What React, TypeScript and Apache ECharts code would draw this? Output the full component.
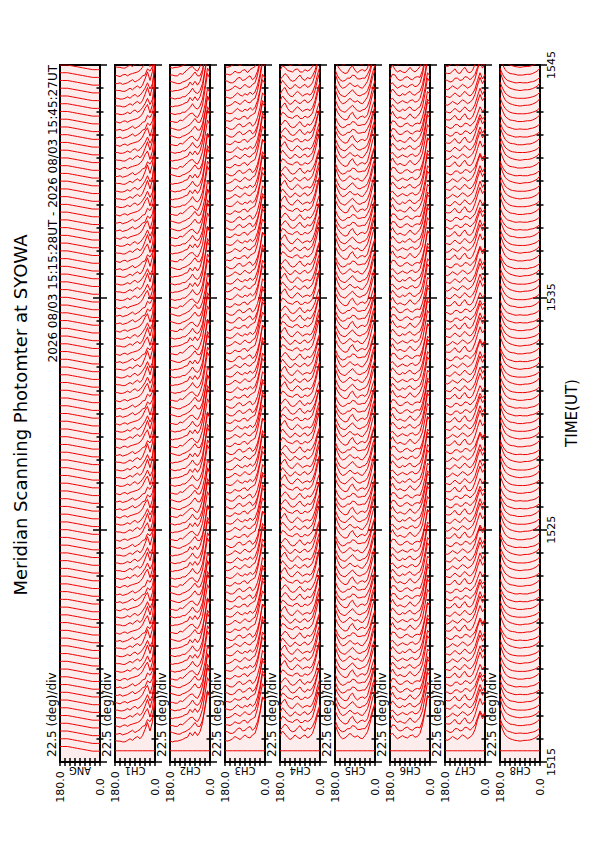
import React, { useEffect, useRef } from 'react';
import * as echarts from 'echarts';

// ---- labels ----
const TITLE = 'Meridian Scanning Photomter at SYOWA';
const SUBTITLE = '2026 08/03 15:15:28UT - 2026 08/03 15:45:27UT';
const SCALE_LABEL = '22.5 (deg)/div';
const TIME_TITLE = 'TIME(UT)';
const CHANNELS = ['ANG', 'CH1', 'CH2', 'CH3', 'CH4', 'CH5', 'CH6', 'CH7', 'CH8'];
const TIME_TICKS = ['1515', '1525', '1535', '1545'];

// ---- scan geometry ----
const ANGLES = [180, 168.75, 157.5, 146.25, 135, 123.75, 112.5, 101.25, 90, 78.75, 67.5, 56.25, 45, 33.75, 22.5, 11.25, 0];
const FIRST_SCAN_SEC = 28;
const SCAN_SEC = 20;
const N_SCANS = 89;
const VARIANT_ORDER = [0, 1, 2, 3, 1, 0, 3, 2, 2, 3, 0, 1];

// ---- trace profiles (offset in scan spacings, from 180 deg to 0 deg) ----
const ANG_PROFILES = [
  [0.6, 0.6, 0.6, 0.6, 0.54, 0.48, 0.42, 0.36, 0.3, 0.24, 0.18, 0.12, 0.06, 0, 0, 0, 0],
];
const CH1_PROFILES = [
  [0.3, 0.3, 0.2, 0.2, 0.3, 0.5, 0.3, 0.6, 0.8, 0.5, 0.7, 1.1, 1.6, 2.3, 1.5, 2.2, 5.0],
  [0.4, 0.3, 0.3, 0.2, 0.2, 0.4, 0.6, 0.4, 0.7, 0.9, 0.6, 1.0, 1.8, 2.7, 1.6, 2.8, 5.8],
  [0.2, 0.2, 0.3, 0.1, 0.2, 0.3, 0.5, 0.7, 0.4, 0.6, 0.8, 1.2, 1.3, 2.1, 1.8, 2.4, 4.4],
  [0.3, 0.2, 0.1, 0.3, 0.4, 0.2, 0.4, 0.5, 0.6, 0.7, 0.9, 1.3, 2.0, 2.5, 1.4, 2.5, 5.3],
];
const CH2_PROFILES = [
  [0.4, 0.3, 0.2, 0.3, 0.3, 0.5, 0.5, 0.8, 1.1, 1.6, 1.1, 0.9, 1.3, 2.2, 4.0, 6.2, 5.6],
  [0.3, 0.2, 0.3, 0.3, 0.4, 0.5, 0.7, 0.8, 1.4, 1.0, 1.5, 1.0, 1.5, 2.6, 4.8, 6.8, 6.1],
  [0.5, 0.4, 0.3, 0.2, 0.2, 0.4, 0.5, 0.7, 0.9, 1.3, 1.7, 1.2, 1.2, 2.0, 3.5, 5.6, 5.0],
  [0.3, 0.3, 0.2, 0.2, 0.5, 0.4, 0.7, 1.0, 1.3, 1.4, 1.0, 0.8, 1.4, 2.4, 4.4, 6.5, 5.8],
];
const CH3_PROFILES = [
  [0.5, 0.4, 0.3, 0.4, 0.7, 1.0, 0.7, 0.6, 0.9, 0.7, 1.1, 0.8, 1.1, 2.0, 3.4, 5.4, 4.9],
  [0.4, 0.3, 0.4, 0.6, 0.9, 0.7, 0.5, 0.8, 1.1, 0.8, 0.7, 1.1, 1.3, 2.3, 3.9, 6.0, 5.5],
  [0.6, 0.5, 0.3, 0.3, 0.5, 0.9, 1.0, 0.6, 0.7, 1.0, 1.2, 0.7, 1.0, 1.8, 3.1, 5.0, 4.6],
  [0.4, 0.4, 0.3, 0.5, 0.8, 0.6, 0.6, 0.9, 1.0, 0.6, 1.0, 1.2, 1.4, 2.5, 4.1, 5.7, 5.2],
];
const CH4_PROFILES = [
  [0.8, 1.4, 1.7, 1.0, 0.6, 0.5, 0.9, 1.2, 0.9, 0.6, 0.8, 0.9, 0.7, 1.1, 2.0, 3.4, 4.4],
  [1.0, 1.6, 1.2, 0.8, 0.5, 0.7, 1.1, 0.8, 0.6, 0.9, 1.1, 0.7, 0.9, 1.3, 2.3, 3.7, 4.8],
  [0.7, 1.1, 1.5, 1.2, 0.7, 0.5, 0.6, 1.0, 1.3, 0.8, 0.6, 1.0, 0.8, 1.2, 1.9, 3.1, 4.0],
  [0.9, 1.5, 1.3, 0.9, 0.8, 0.7, 1.0, 1.1, 0.7, 0.7, 1.0, 0.8, 1.0, 1.4, 2.5, 3.9, 5.0],
];
const CH5_PROFILES = [
  [2.2, 1.4, 0.8, 0.6, 0.5, 0.8, 1.1, 1.4, 1.0, 0.7, 0.6, 0.8, 0.9, 1.3, 2.2, 3.6, 4.6],
  [2.5, 1.6, 0.9, 0.6, 0.7, 1.0, 1.3, 1.0, 0.8, 1.0, 0.7, 0.6, 1.0, 1.5, 2.6, 4.0, 5.0],
  [2.0, 1.2, 0.7, 0.5, 0.6, 0.9, 0.9, 1.3, 1.2, 0.8, 0.8, 0.9, 0.9, 1.4, 2.1, 3.3, 4.2],
  [2.3, 1.5, 1.0, 0.7, 0.5, 0.6, 1.2, 1.5, 0.9, 0.6, 0.9, 1.0, 0.8, 1.2, 2.4, 3.8, 4.8],
];
const CH6_PROFILES = [
  [0.9, 1.5, 1.1, 0.7, 0.6, 0.9, 0.7, 1.0, 1.2, 0.8, 0.7, 1.0, 1.2, 2.1, 3.6, 5.6, 5.2],
  [1.1, 1.3, 0.9, 0.6, 0.8, 1.0, 0.8, 0.7, 1.0, 1.1, 0.8, 0.9, 1.3, 2.4, 4.1, 6.2, 5.7],
  [0.8, 1.4, 1.3, 0.8, 0.6, 0.7, 1.0, 1.1, 0.8, 0.7, 1.0, 1.1, 1.0, 1.9, 3.3, 5.2, 4.8],
  [1.0, 1.6, 1.0, 0.7, 0.9, 0.7, 0.6, 0.9, 1.3, 0.9, 0.7, 1.0, 1.4, 2.2, 3.9, 5.9, 5.4],
];
const CH7_PROFILES = [
  [0.6, 0.5, 0.4, 0.7, 1.0, 0.7, 0.5, 0.9, 1.2, 0.8, 0.6, 0.9, 1.5, 2.6, 3.6, 2.8, 3.4],
  [0.5, 0.4, 0.6, 0.9, 0.7, 0.5, 0.8, 1.1, 0.9, 0.6, 0.8, 1.1, 1.8, 3.0, 4.0, 3.2, 3.8],
  [0.7, 0.6, 0.4, 0.5, 0.9, 0.9, 0.6, 0.7, 1.1, 1.0, 0.7, 1.0, 1.4, 2.3, 3.2, 2.6, 3.0],
  [0.6, 0.5, 0.5, 0.8, 1.1, 0.6, 0.5, 1.0, 1.3, 0.7, 0.6, 0.9, 1.7, 2.8, 3.8, 3.0, 3.5],
];
const CH8_PROFILES = [
  [2.4, 1.6, 1.0, 0.7, 0.5, 0.4, 0.35, 0.3, 0.3, 0.3, 0.3, 0.35, 0.4, 0.5, 0.6, 0.8, 1.1],
  [2.8, 1.8, 1.1, 0.8, 0.6, 0.5, 0.4, 0.35, 0.3, 0.35, 0.4, 0.4, 0.45, 0.55, 0.7, 0.9, 1.3],
  [2.2, 1.4, 0.9, 0.6, 0.5, 0.4, 0.3, 0.3, 0.35, 0.3, 0.3, 0.3, 0.4, 0.45, 0.55, 0.75, 1.0],
  [2.6, 1.7, 1.0, 0.7, 0.5, 0.45, 0.4, 0.3, 0.3, 0.3, 0.35, 0.4, 0.4, 0.5, 0.65, 0.85, 1.2],
];
const FIRST_SCAN_LEVEL = 0.05;

const PANEL_PROFILES = [ANG_PROFILES, CH1_PROFILES, CH2_PROFILES, CH3_PROFILES, CH4_PROFILES, CH5_PROFILES, CH6_PROFILES, CH7_PROFILES, CH8_PROFILES];

// ---- layout ----
const PANEL_LEFT = 60;
const PANEL_STEP = 55;
const PANEL_W = 40;
const PANEL_TOP = 65;
const PANEL_H = 697;
const FONT = '"DejaVu Sans", sans-serif';
const RED = '#f00000';

export default function App() {
  const ref = useRef<HTMLDivElement>(null);
  useEffect(() => {
    const chart = echarts.init(ref.current!, null, { renderer: 'svg' });
    const grids: any[] = [];
    const xAxes: any[] = [];
    const yAxes: any[] = [];
    const series: any[] = [];
    const graphics: any[] = [];
    const step = SCAN_SEC / 60;

    CHANNELS.forEach((ch, i) => {
      const left = PANEL_LEFT + PANEL_STEP * i;
      grids.push({ left, top: PANEL_TOP, width: PANEL_W, height: PANEL_H, show: true, backgroundColor: '#fdecec', borderColor: '#000', borderWidth: 2, z: 0 });
      const xBase = {
        type: 'value', gridIndex: i, min: 0, max: 180, interval: 22.5, inverse: true,
        axisLine: { show: false }, splitLine: { show: false },
        axisTick: { show: true, inside: true, length: 4, lineStyle: { color: '#000', width: 1.5 } },
      };
      xAxes.push({
        ...xBase, position: 'bottom',
        axisLabel: {
          show: true, rotate: 90, align: 'center', margin: 25, fontSize: 11, fontFamily: FONT, color: '#000',
          showMinLabel: true, showMaxLabel: true,
          formatter: (v: number) => (v === 0 || v === 180 ? v.toFixed(1) : ''),
        },
      });
      xAxes.push({ ...xBase, position: 'top', axisLabel: { show: false } });
      const yBase = {
        type: 'value', gridIndex: i, min: 0, max: 30, interval: 10,
        axisLine: { show: false }, splitLine: { show: false },
        axisTick: { show: true, inside: true, length: 7, lineStyle: { color: '#000', width: 1.5 } },
        minorTick: { show: true, splitNumber: 10, length: 3.5, lineStyle: { color: '#000', width: 1.5 } },
      };
      yAxes.push({ ...yBase, position: 'left', axisLabel: { show: false } });
      yAxes.push({
        ...yBase, position: 'right',
        axisLabel: i === CHANNELS.length - 1
          ? { show: true, rotate: 90, margin: 6, fontSize: 11, fontFamily: FONT, color: '#000', formatter: (v: number) => TIME_TICKS[Math.round(v / 10)] }
          : { show: false },
      });

      const profiles = PANEL_PROFILES[i];
      for (let k = 0; k < N_SCANS; k++) {
        const t = (FIRST_SCAN_SEC + SCAN_SEC * k) / 60;
        const prof = i > 0 && k === 0 ? null : profiles[VARIANT_ORDER[k % VARIANT_ORDER.length] % profiles.length];
        series.push({
          type: 'line', xAxisIndex: 2 * i, yAxisIndex: 2 * i, symbol: 'none', silent: true, clip: true,
          lineStyle: { color: RED, width: 1 },
          data: ANGLES.map((a, j) => [a, t + (prof ? prof[j] : FIRST_SCAN_LEVEL) * step]),
          z: 2,
        });
      }

      graphics.push({
        type: 'text', x: left - 8, y: 757, rotation: Math.PI / 2,
        style: { text: SCALE_LABEL, font: `12px ${FONT}`, fill: '#000', align: 'left', textAlign: 'left', verticalAlign: 'middle', textVerticalAlign: 'middle' },
      });
      graphics.push({
        type: 'text', x: left + PANEL_W / 2, y: 770, rotation: Math.PI,
        style: { text: ch, font: `10px ${FONT}`, fill: '#000', align: 'center', textAlign: 'center', verticalAlign: 'middle', textVerticalAlign: 'middle' },
      });
    });

    graphics.push({
      type: 'text', x: 20, y: 415, rotation: Math.PI / 2,
      style: { text: TITLE, font: `18px ${FONT}`, fill: '#000', align: 'center', textAlign: 'center', verticalAlign: 'middle', textVerticalAlign: 'middle' },
    });
    graphics.push({
      type: 'text', x: 53, y: 65, rotation: Math.PI / 2,
      style: { text: SUBTITLE, font: `12px ${FONT}`, fill: '#000', align: 'right', textAlign: 'right', verticalAlign: 'middle', textVerticalAlign: 'middle' },
    });
    graphics.push({
      type: 'text', x: 572, y: 413, rotation: Math.PI / 2,
      style: { text: TIME_TITLE, font: `15px ${FONT}`, fill: '#000', align: 'center', textAlign: 'center', verticalAlign: 'middle', textVerticalAlign: 'middle' },
    });

    chart.setOption({
      animation: false,
      backgroundColor: '#fff',
      grid: grids,
      xAxis: xAxes,
      yAxis: yAxes,
      series,
      graphic: { elements: graphics },
    });
    return () => chart.dispose();
  }, []);
  return <div ref={ref} style={{ position: 'absolute', left: 0, top: 0, width: 595, height: 842 }} />;
}
